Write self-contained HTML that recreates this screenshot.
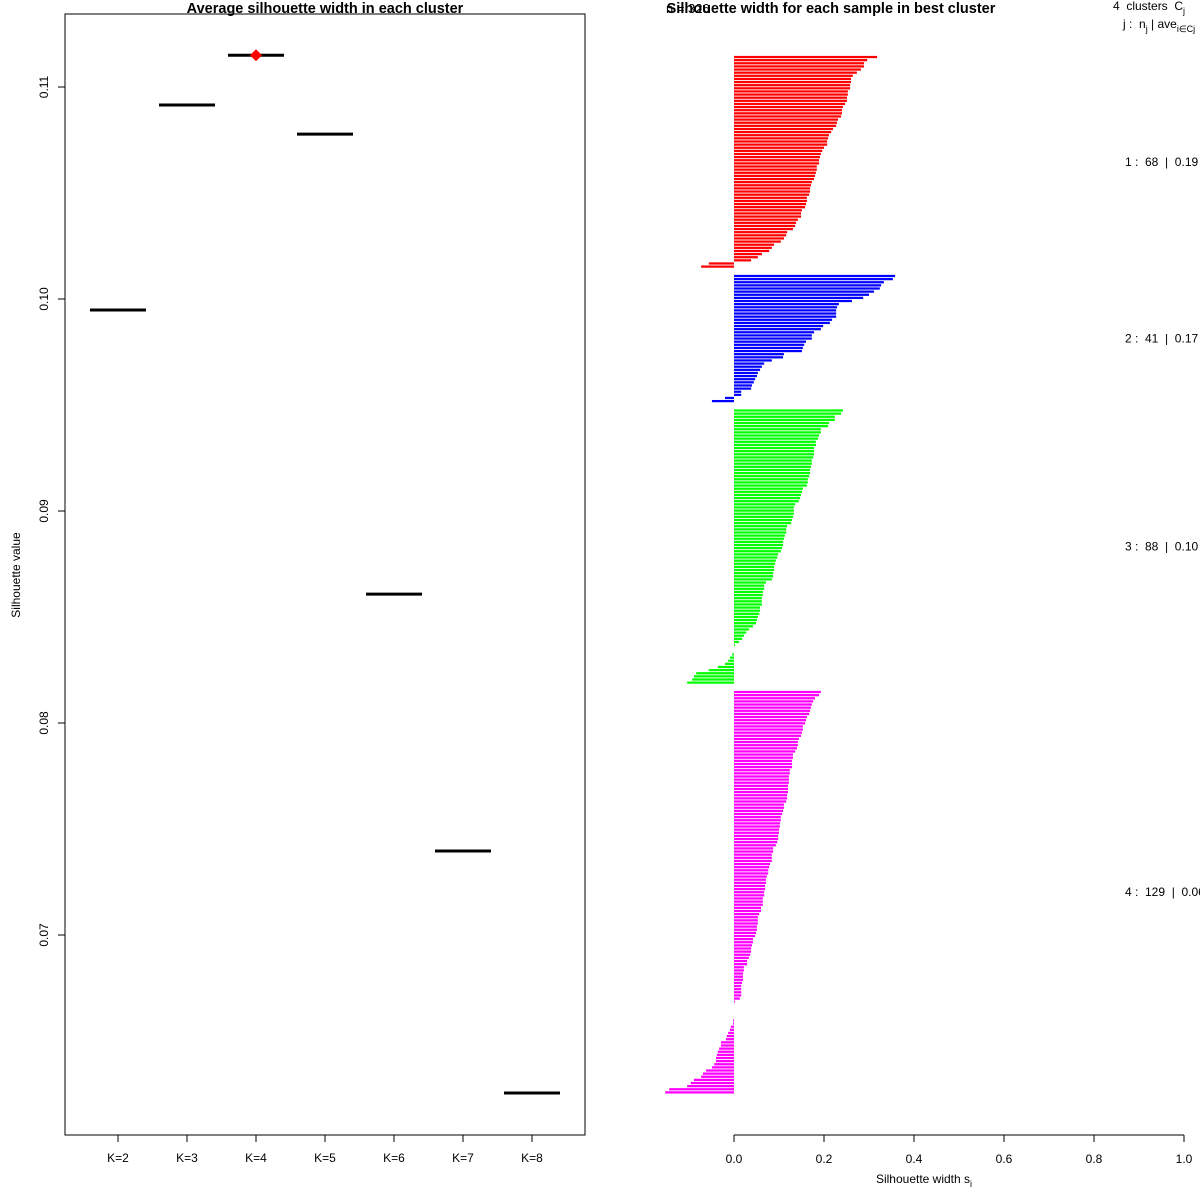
<!DOCTYPE html>
<html><head><meta charset="utf-8"><style>
body{margin:0;background:#fff}
svg{display:block;font-family:"Liberation Sans",Arial,sans-serif}
svg text{white-space:pre}
</style></head><body>
<svg id="c" width="1200" height="1200" viewBox="0 0 1200 1200">
<rect width="1200" height="1200" fill="#fff"/>
<g id="left">
<text x="325" y="13" font-size="14.5" font-weight="bold" text-anchor="middle">Average silhouette width in each cluster</text>
<rect x="65" y="14" width="520" height="1121" fill="none" stroke="#000" stroke-width="1"/>
<text transform="translate(20,575) rotate(-90)" font-size="12" text-anchor="middle">Silhouette value</text>
</g>
<g id="right">
<text x="666" y="13" font-size="13">n = 326</text>
<text x="831" y="13" font-size="14.5" font-weight="bold" text-anchor="middle">Silhouette width for each sample in best cluster</text>
<text x="1113" y="10" font-size="12">4  clusters  C<tspan font-size="9" dy="4">j</tspan></text>
<text x="1123" y="28" font-size="12">j :  n<tspan font-size="9" dy="4">j</tspan><tspan dy="-4"> | ave</tspan><tspan font-size="9" dy="4">i∈Cj</tspan><tspan dy="-4">  s</tspan><tspan font-size="9" dy="4">i</tspan></text>
<text x="924" y="1183" font-size="12" text-anchor="middle">Silhouette width s<tspan font-size="9" dy="4">i</tspan></text>
</g>
</svg>
<script>
// Left chart data
const kLabels=["K=2","K=3","K=4","K=5","K=6","K=7","K=8"];
const avgSil=[0.09948,0.10915,0.1115,0.10778,0.08608,0.07396,0.06255];
const bestK="K=4";
const yTicks=[0.07,0.08,0.09,0.10,0.11];
const yTickLabels=["0.07","0.08","0.09","0.10","0.11"];
// Right chart data
const clusterNames=["1","2","3","4"];
const clusterColors=["#ff0000","#0000ff","#00ff00","#ff00ff"];
const clusterAvg=["0.19","0.17","0.10","0.06"];
const sil1=[0.318,0.296,0.289,0.289,0.282,0.273,0.264,0.260,0.260,0.258,0.258,0.253,0.253,0.251,0.251,0.247,0.242,0.240,0.240,0.238,0.231,0.229,0.227,0.220,0.216,0.211,0.209,0.207,0.207,0.200,0.196,0.193,0.191,0.189,0.189,0.184,0.184,0.182,0.180,0.178,0.173,0.171,0.169,0.169,0.167,0.162,0.162,0.160,0.158,0.151,0.149,0.149,0.142,0.138,0.136,0.131,0.118,0.116,0.111,0.104,0.089,0.084,0.078,0.062,0.053,0.038,-0.056,-0.073];
const sil2=[0.358,0.353,0.333,0.327,0.324,0.311,0.300,0.287,0.262,0.233,0.229,0.227,0.227,0.227,0.218,0.213,0.198,0.193,0.178,0.173,0.173,0.160,0.156,0.153,0.151,0.111,0.109,0.084,0.067,0.062,0.058,0.053,0.051,0.047,0.044,0.040,0.038,0.016,0.016,-0.020,-0.049];
const sil3=[0.242,0.238,0.224,0.224,0.211,0.209,0.193,0.193,0.189,0.187,0.182,0.182,0.178,0.178,0.178,0.176,0.173,0.173,0.171,0.169,0.169,0.167,0.164,0.164,0.162,0.153,0.151,0.149,0.147,0.144,0.136,0.133,0.133,0.133,0.131,0.129,0.127,0.118,0.116,0.116,0.113,0.111,0.109,0.109,0.107,0.104,0.098,0.096,0.093,0.091,0.089,0.089,0.087,0.087,0.084,0.071,0.067,0.067,0.064,0.064,0.062,0.062,0.062,0.058,0.058,0.056,0.053,0.051,0.049,0.042,0.033,0.027,0.022,0.018,0.011,0.002,0,0,-0.004,-0.009,-0.013,-0.020,-0.036,-0.056,-0.084,-0.089,-0.093,-0.104];
const sil4=[0.193,0.189,0.180,0.176,0.173,0.171,0.169,0.167,0.162,0.160,0.158,0.153,0.153,0.151,0.149,0.144,0.142,0.142,0.140,0.136,0.131,0.131,0.129,0.129,0.129,0.124,0.124,0.122,0.122,0.122,0.120,0.120,0.120,0.118,0.118,0.116,0.111,0.111,0.109,0.107,0.104,0.104,0.102,0.102,0.100,0.100,0.098,0.098,0.096,0.093,0.087,0.087,0.084,0.084,0.084,0.080,0.078,0.076,0.076,0.073,0.071,0.071,0.069,0.069,0.067,0.067,0.064,0.064,0.064,0.060,0.060,0.056,0.053,0.053,0.053,0.051,0.051,0.049,0.047,0.042,0.042,0.040,0.038,0.038,0.036,0.033,0.029,0.029,0.022,0.022,0.020,0.020,0.020,0.018,0.016,0.016,0.016,0.016,0.013,0.002,0,0,0,0,0,-0.002,-0.002,-0.007,-0.009,-0.013,-0.016,-0.018,-0.029,-0.029,-0.033,-0.036,-0.038,-0.040,-0.040,-0.044,-0.049,-0.062,-0.069,-0.073,-0.089,-0.096,-0.104,-0.144,-0.153];
const xTicks=[0,0.2,0.4,0.6,0.8,1.0];
const xTickLabels=["0.0","0.2","0.4","0.6","0.8","1.0"];

const NS="http://www.w3.org/2000/svg";
function mk(parent,tag,attrs){const e=document.createElementNS(NS,tag);for(const k in attrs)e.setAttribute(k,attrs[k]);parent.appendChild(e);return e;}
const L=document.getElementById('left'),R=document.getElementById('right');

// left scales
const yL=v=>299-(v-0.10)*21200;
const xL=i=>118+i*69;
yTicks.forEach((t,i)=>{
  const tk=mk(L,'line',{x1:58,x2:65,y1:yL(t),y2:yL(t),stroke:'#000'});
  
  
  const tx=mk(L,'text',{transform:`translate(48,${yL(t)}) rotate(-90)`,'font-size':12,'text-anchor':'middle'});
  tx.textContent=yTickLabels[i];
  
  
});
kLabels.forEach((k,i)=>{
  const tk=mk(L,'line',{x1:xL(i),x2:xL(i),y1:1135,y2:1142,stroke:'#000'});
  
  
  const tx=mk(L,'text',{x:xL(i),y:1162,'font-size':12,'text-anchor':'middle'});
  tx.textContent=k;
  
  
  const s=mk(L,'line',{x1:xL(i)-28,x2:xL(i)+28,y1:yL(avgSil[i]),y2:yL(avgSil[i]),stroke:'#000','stroke-width':3});
  
  
  if(k===bestK){
    const yy=yL(avgSil[i]),xx=xL(i);
    const d=mk(L,'polygon',{points:`${xx},${yy-6} ${xx+6},${yy} ${xx},${yy+6} ${xx-6},${yy}`,fill:'#ff0000'});
    
    
  }
});

// right scales
const xR=v=>734+v*450;
const axl=mk(R,'line',{x1:xR(0),x2:xR(1),y1:1135,y2:1135,stroke:'#000'});


xTicks.forEach((t,i)=>{
  const tk=mk(R,'line',{x1:xR(t),x2:xR(t),y1:1135,y2:1142,stroke:'#000'});
  
  
  const tx=mk(R,'text',{x:xR(t),y:1163,'font-size':12,'text-anchor':'middle'});
  tx.textContent=xTickLabels[i];
  
  
});
const clusters=[sil1,sil2,sil3,sil4];
const totalUnits=clusters.reduce((a,c)=>a+c.length,0)+2*(clusters.length-1);
const plotTop=55.5,plotBot=1094,unitH=(plotBot-plotTop)/totalUnits;
let pos=0;
clusters.forEach((arr,ci)=>{
  const start=pos;
  arr.forEach(v=>{
    const yy=plotTop+pos*unitH;
    const x0=Math.min(xR(0),xR(v)),w=Math.abs(xR(v)-xR(0));
    const b=mk(R,'rect',{x:x0,y:yy+0.4,width:w,height:unitH*0.72,fill:clusterColors[ci]});
    
    
    pos++;
  });
  const mid=plotTop+(start+arr.length/2)*unitH;
  const t=mk(R,'text',{x:1125,y:mid+4,'font-size':12});
  t.textContent=clusterNames[ci]+" :  "+arr.length+"  |  "+clusterAvg[ci];
  
  
  pos+=2;
});
</script>
</body></html>
